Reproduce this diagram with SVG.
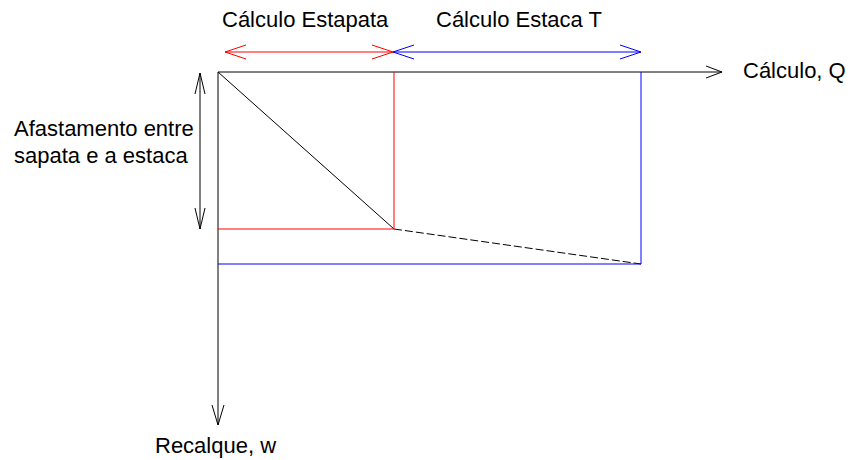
<svg xmlns="http://www.w3.org/2000/svg" width="850" height="460" viewBox="0 0 850 460">
<style>
text{font-family:"Liberation Sans",Arial,sans-serif;font-size:22px;fill:#000}
.k{stroke:#000;stroke-width:1;fill:none}
.r{stroke:#ff0000;stroke-width:1;fill:none}
.b{stroke:#0000ff;stroke-width:1;fill:none}
</style>
<rect width="850" height="460" fill="#fff"/>
<g id="connectors">
<path class="k" d="M218 72H722M706 66L722 72L706 78"/>
<path class="k" d="M218 72V425M212 405L218 425L224 405"/>
<path class="k" d="M218 72L394 229"/>
<path class="k" d="M394 229L641 264" stroke-dasharray="8,3"/>
<path class="r" d="M394 72V229M218 229H394"/>
<path class="b" d="M641 72V264M218 264H641"/>
<path class="r" d="M225 52H393M246 45L225 52L246 59M372 45L393 52L372 59"/>
<path class="b" d="M393 52H641M414 45L393 52L414 59M620 45L641 52L620 59"/>
<path class="k" d="M200 73V229M195 94L200 73L205 94M195 208L200 229L205 208"/>
</g>
<g id="label-estapata"><text x="222" y="27">Cálculo Estapata</text></g>
<g id="label-estaca"><text x="436" y="27">Cálculo Estaca T</text></g>
<g id="label-q"><text x="743" y="78">Cálculo, Q</text></g>
<g id="label-afastamento"><text x="14" y="136">Afastamento entre</text><text x="14" y="163">sapata e a estaca</text></g>
<g id="label-w"><text x="155" y="453">Recalque, w</text></g>
</svg>
